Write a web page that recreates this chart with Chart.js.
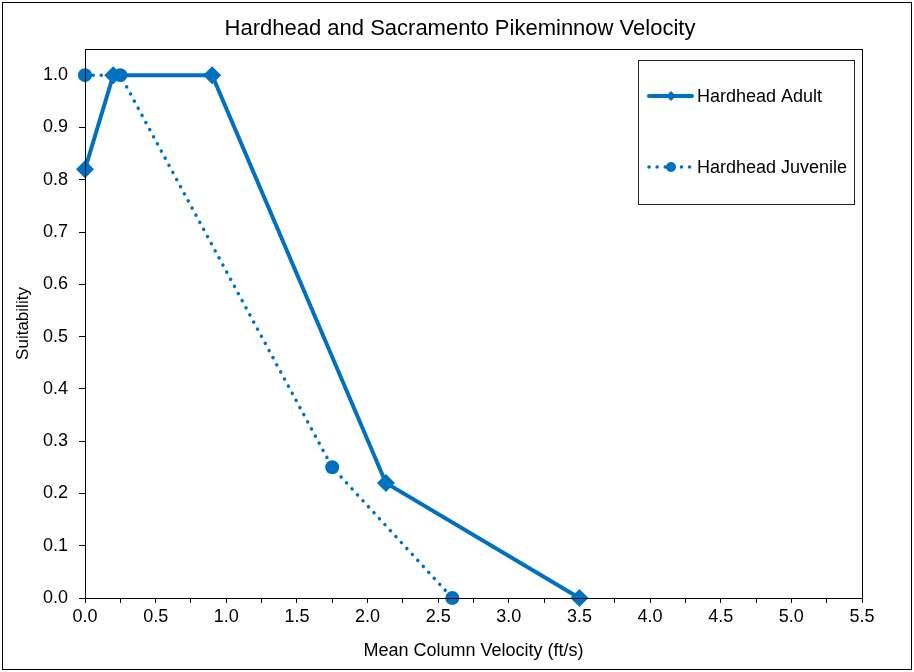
<!DOCTYPE html>
<html>
<head>
<meta charset="utf-8">
<script src="https://cdn.jsdelivr.net/npm/chart.js"></script>
<style>
  html, body { margin: 0; padding: 0; background: #fff; }
  #wrap { width: 914px; height: 672px; position: relative; }
</style>
</head>
<body>
<div id="wrap"><canvas id="chart" width="914" height="672"></canvas></div>
<script>
// data
const adultVelocity = [0, 0.2, 0.9, 2.13, 3.5];
const adultSuitability = [0.82, 1.0, 1.0, 0.22, 0.0];
const juvenileVelocity = [0, 0.25, 1.75, 2.6];
const juvenileSuitability = [1.0, 1.0, 0.25, 0.0];

const chartTitle = 'Hardhead and Sacramento Pikeminnow Velocity';
const xTitle = 'Mean Column Velocity (ft/s)';
const yTitle = 'Suitability';
const seriesNames = ['Hardhead Adult', 'Hardhead Juvenile'];

const blue = '#0070C0';
const font = '"Liberation Sans", Arial, sans-serif';

function toPoints(xs, ys) {
  return xs.map((x, i) => ({ x: x, y: ys[i] }));
}

// frame, title, plot box and the boxed legend
const decorations = {
  id: 'decorations',
  beforeDraw(chart) {
    const ctx = chart.ctx;
    ctx.save();
    ctx.fillStyle = '#fff';
    ctx.fillRect(0, 0, chart.width, chart.height);
    ctx.restore();
  },
  afterDraw(chart) {
    const ctx = chart.ctx;
    const a = chart.chartArea;
    ctx.save();
    ctx.strokeStyle = '#000';
    ctx.lineWidth = 1;
    ctx.strokeRect(2.5, 2.5, chart.width - 5, chart.height - 5);
    ctx.strokeRect(Math.round(a.left) + 0.5, Math.round(a.top) + 0.5,
      Math.round(a.right - a.left), Math.round(a.bottom - a.top));

    ctx.fillStyle = '#000';
    ctx.font = '22px ' + font;
    ctx.textAlign = 'center';
    ctx.textBaseline = 'middle';
    ctx.fillText(chartTitle, 460, 29);

    // legend
    const lx = 638.5, ly = 60.5, lw = 216, lh = 144;
    ctx.strokeStyle = '#222';
    ctx.strokeRect(lx, ly, lw, lh);
    ctx.font = '18px ' + font;
    ctx.textAlign = 'left';
    const rows = [96, 167];
    chart.data.datasets.forEach((ds, i) => {
      const y = rows[i];
      ctx.strokeStyle = blue;
      ctx.lineWidth = ds.borderWidth;
      ctx.lineCap = 'round';
      ctx.setLineDash(ds.borderDash || []);
      ctx.beginPath();
      ctx.moveTo(649, y);
      ctx.lineTo(692, y);
      ctx.stroke();
      ctx.setLineDash([]);
      ctx.fillStyle = blue;
      ctx.beginPath();
      if (ds.pointStyle === 'rectRot') {
        ctx.moveTo(671, y - 5); ctx.lineTo(676, y); ctx.lineTo(671, y + 5); ctx.lineTo(666, y);
      } else {
        ctx.arc(671, y, 5, 0, Math.PI * 2);
      }
      ctx.fill();
      ctx.fillStyle = '#000';
      ctx.fillText(ds.label, 697, y + 1);
    });
    ctx.restore();
  }
};

new Chart(document.getElementById('chart'), {
  type: 'scatter',
  data: {
    datasets: [
      {
        label: seriesNames[0],
        data: toPoints(adultVelocity, adultSuitability),
        showLine: true,
        borderColor: blue,
        backgroundColor: blue,
        borderWidth: 4,
        pointStyle: 'rectRot',
        pointRadius: 9,
        pointBorderWidth: 0,
        clip: false
      },
      {
        label: seriesNames[1],
        data: toPoints(juvenileVelocity, juvenileSuitability),
        showLine: true,
        borderColor: blue,
        backgroundColor: blue,
        borderWidth: 3.5,
        borderDash: [0.1, 8],
        borderCapStyle: 'round',
        pointStyle: 'circle',
        pointRadius: 7,
        pointBorderWidth: 0,
        clip: false
      }
    ]
  },
  options: {
    responsive: false,
    animation: false,
    layout: { padding: { top: 49, right: 52, left: 0, bottom: 0 } },
    plugins: {
      legend: { display: false },
      title: { display: false },
      tooltip: { enabled: false }
    },
    scales: {
      x: {
        type: 'linear',
        min: 0,
        max: 5.5,
        afterFit: s => { s.height = 74; },
        ticks: {
          stepSize: 0.25,
          color: '#000',
          font: { family: font, size: 18 },
          padding: 3,
          maxRotation: 0,
          autoSkip: false,
          callback: v => (Math.round(v * 100) % 50 === 0 ? v.toFixed(1) : '')
        },
        grid: { drawOnChartArea: false, drawTicks: true, tickLength: 5, color: '#000' },
        border: { display: false },
        title: {
          display: true,
          text: xTitle,
          color: '#000',
          font: { family: font, size: 18 },
          padding: { top: 0, bottom: 10 }
        }
      },
      y: {
        type: 'linear',
        min: 0,
        max: 1.05,
        afterFit: s => { s.width = 85; },
        afterBuildTicks: s => { s.ticks = s.ticks.filter(t => t.value <= 1.0001); },
        ticks: {
          stepSize: 0.1,
          color: '#000',
          font: { family: font, size: 18 },
          padding: 11,
          callback: v => v.toFixed(1)
        },
        grid: { drawOnChartArea: false, drawTicks: true, tickLength: 6, color: '#000' },
        border: { display: false },
        title: {
          display: true,
          text: yTitle,
          color: '#000',
          font: { family: font, size: 17 },
          padding: { top: 13, bottom: 0 }
        }
      }
    }
  },
  plugins: [decorations]
});
</script>
</body>
</html>
